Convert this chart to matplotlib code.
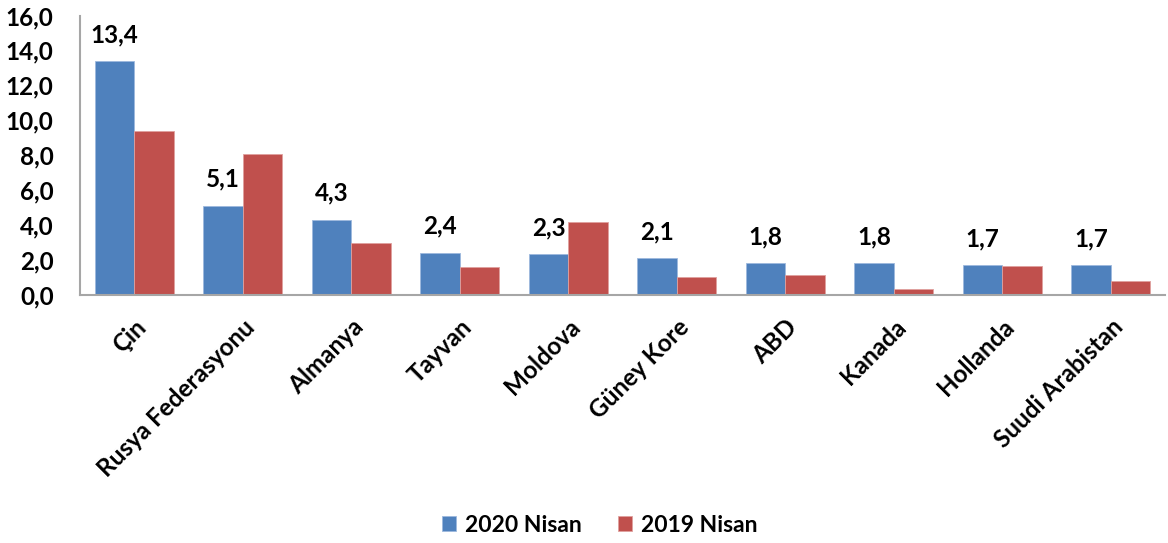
import matplotlib
matplotlib.use("Agg")
import matplotlib.pyplot as plt
import numpy as np

categories = ["Çin", "Rusya Federasyonu", "Almanya", "Tayvan", "Moldova",
              "Güney Kore", "ABD", "Kanada", "Hollanda", "Suudi Arabistan"]
values_2020 = [13.4, 5.1, 4.3, 2.4, 2.3, 2.1, 1.8, 1.8, 1.7, 1.7]
values_2019 = [9.4, 8.07, 2.98, 1.6, 4.17, 1.02, 1.14, 0.33, 1.66, 0.76]
series_names = ["2020 Nisan", "2019 Nisan"]
yticks = [0, 2, 4, 6, 8, 10, 12, 14, 16]

plt.rcParams['font.family'] = ['Lato', 'DejaVu Sans']
FS = 17.5

fig = plt.figure(figsize=(11.68, 5.43), dpi=100)
ax = fig.add_axes([80/1168, 1-294.5/543, 1085/1168, (294.5-15.5)/543])

x = np.arange(len(categories))
w = 0.364
blue = "#4F81BD"
red = "#C0504D"
b1 = ax.bar(x - w/2, values_2020, w, color=blue, edgecolor="#9DB9DE", linewidth=0.6, label=series_names[0])
b2 = ax.bar(x + w/2, values_2019, w, color=red, edgecolor="#E0A09E", linewidth=0.6, label=series_names[1])

for xi, v in zip(x, values_2020):
    ax.annotate(f"{v:.1f}".replace(".", ","), (xi - w/2, v), xytext=(0, 19),
                textcoords="offset points", ha="center", va="center",
                fontsize=FS, fontweight="bold")

ax.set_xlim(-0.5, len(categories) - 0.5)
ax.set_ylim(0, 16)
ax.set_yticks(yticks)
ax.set_yticklabels([f"{t:.1f}".replace(".", ",") for t in yticks], fontsize=FS, fontweight="bold")
ax.set_xticks(x)
ax.set_xticklabels(categories, rotation=45, ha="right", rotation_mode="anchor",
                   fontsize=FS, fontweight="bold")
ax.tick_params(axis="both", length=0)
ax.tick_params(axis="y", pad=19)
ax.tick_params(axis="x", pad=15)
for s in ["top", "right"]:
    ax.spines[s].set_visible(False)
for s in ["left", "bottom"]:
    ax.spines[s].set_color("#A6A6A6")
    ax.spines[s].set_linewidth(1.5)

leg = fig.legend(handles=[b1, b2], labels=series_names, loc="center",
                 bbox_to_anchor=(600/1168, 1-525/543), ncol=2, frameon=False,
                 prop={"size": 16.5, "weight": "bold"}, handlelength=0.6, handleheight=0.6,
                 columnspacing=1.6, handletextpad=0.4)

fig.savefig("out.png", dpi=100)
